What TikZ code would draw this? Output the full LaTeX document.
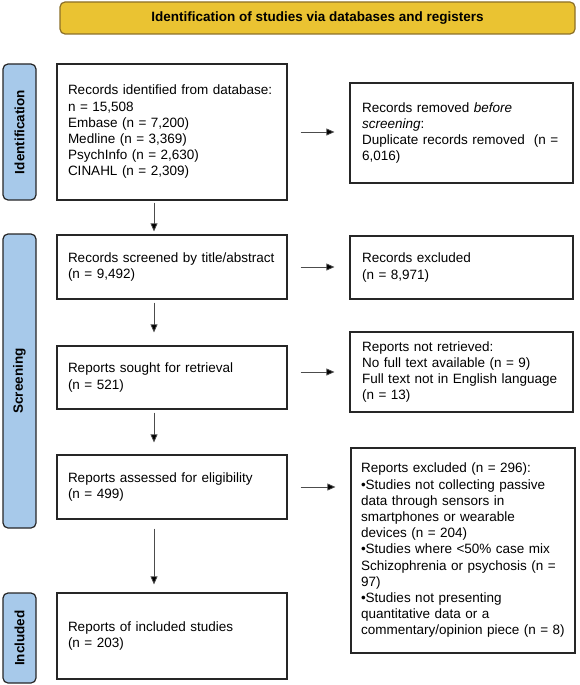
\documentclass[tikz,border=0pt]{standalone}
\usepackage{fontspec}
\setmainfont{Liberation Sans}
\usetikzlibrary{arrows.meta}

\definecolor{headyellow}{RGB}{234,195,50}
\definecolor{headedge}{RGB}{140,112,40}
\definecolor{stageblue}{RGB}{167,201,234}

\begin{document}
\begin{tikzpicture}[x=1pt,y=-1pt,
    every node/.style={font=\fontsize{13.5}{16.2}\selectfont},
    leftbox/.style={draw=black!85,line width=1.2pt,align=left,inner xsep=11pt,inner ysep=0pt,text width=208pt},
    rightbox/.style={draw=black!85,line width=1.2pt,align=left,inner xsep=12pt,inner ysep=0pt,text width=199pt},
    stage/.style={draw=black!85,fill=stageblue,line width=1.2pt,rounded corners=5pt,rotate=90,
      minimum height=33pt,inner sep=0pt,font=\fontsize{13.5}{16.2}\selectfont\bfseries},
    arr/.style={draw=black!70,line width=0.8pt,-{Triangle[length=8pt,width=7pt,fill=black]}}]
  \useasboundingbox (0,0) rectangle (579,685);

  % heading
  \node [draw=headedge,fill=headyellow,line width=1.2pt,rounded corners=5pt,minimum width=515pt,minimum height=32pt,
    font=\fontsize{13.5}{16.2}\selectfont\bfseries] (head) at (317.5,18) {Identification of studies via databases and registers};

  % stages
  \node [stage,minimum width=136pt] (ident) at (19.5,132) {Identification};
  \node [stage,minimum width=294pt] (screen) at (19.5,381) {Screening};
  \node [stage,minimum width=90pt] (incl) at (19.5,638) {Included};

  % main column
  \node [leftbox,minimum height=136pt] (rec) at (172,132) {Records identified from database:\\n = 15,508\\Embase (n = 7,200)\\Medline (n = 3,369)\\PsychInfo (n = 2,630)\\CINAHL (n = 2,309)};
  \node [leftbox,minimum height=64pt] (screened) at (172,267) {Records screened by title/abstract\\(n = 9,492)};
  \node [leftbox,minimum height=63pt] (sought) at (172,377.5) {Reports sought for retrieval\\(n = 521)};
  \node [leftbox,minimum height=64pt] (assessed) at (172,487) {Reports assessed for eligibility\\(n = 499)};
  \node [leftbox,minimum height=86pt] (included) at (172,636) {Reports of included studies\\(n = 203)};

  % side column
  \node [rightbox,minimum height=100pt] (removed) at (461.5,133) {Records removed \textit{before}\\\textit{screening}:\\Duplicate records removed\ \ (n =\\6,016)};
  \node [rightbox,minimum height=63pt] (excluded) at (461.5,267.5) {Records excluded\\(n = 8,971)};
  \node [rightbox,minimum height=80pt] (notret) at (461.5,372) {Reports not retrieved:\\No full text available (n = 9)\\Full text not in English language\\(n = 13)};
  \node [rightbox,minimum height=205pt,inner xsep=10pt,text width=204pt] (repexcl) at (463,550.5) {Reports excluded (n = 296):\\\textbullet Studies not collecting passive\\data through sensors in\\smartphones or wearable\\devices (n = 204)\\\textbullet Studies where <50\% case mix\\Schizophrenia or psychosis (n =\\97)\\\textbullet Studies not presenting\\quantitative data or a\\commentary/opinion piece (n = 8)};

  % downward arrows
  \draw [arr,shorten <=2pt,shorten >=3pt] ([xshift=-18pt]rec.south) -- ([xshift=-18pt]screened.north);
  \draw [arr,shorten <=3pt,shorten >=13pt] ([xshift=-18pt]screened.south) -- ([xshift=-18pt]sought.north);
  \draw [arr,shorten <=3pt,shorten >=12pt] ([xshift=-18pt]sought.south) -- ([xshift=-18pt]assessed.north);
  \draw [arr,shorten <=9pt,shorten >=8pt] ([xshift=-18pt]assessed.south) -- ([xshift=-18pt]included.north);

  % sideways arrows
  \draw [arr,shorten <=13pt,shorten >=15pt] (rec.east) -- (rec.east -| removed.west);
  \draw [arr,shorten <=13pt,shorten >=15pt] (screened.east) -- (screened.east -| excluded.west);
  \draw [arr,shorten <=13pt,shorten >=15pt] (notret.west -| sought.east) -- (notret.west);
  \draw [arr,shorten <=13pt,shorten >=15pt] (assessed.east) -- (assessed.east -| repexcl.west);
\end{tikzpicture}
\end{document}
